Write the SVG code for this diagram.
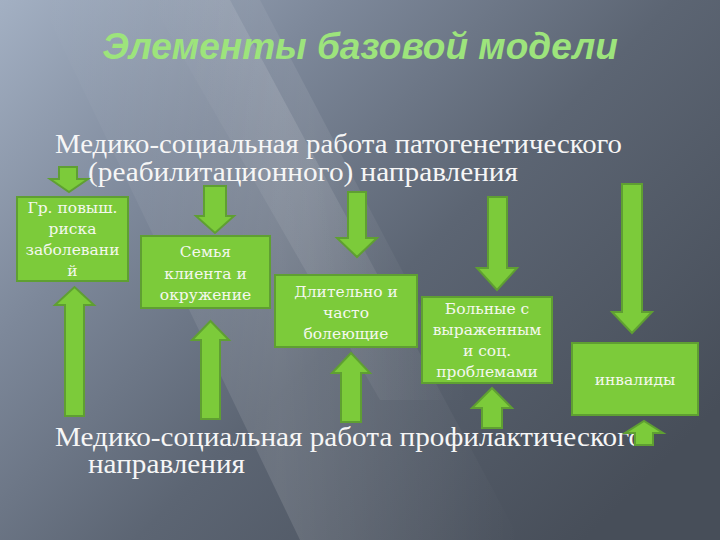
<svg xmlns="http://www.w3.org/2000/svg" width="720" height="540" viewBox="0 0 720 540">
<defs>
<linearGradient id="bg" x1="0" y1="0" x2="1" y2="0.75">
<stop offset="0" stop-color="#a3b0c3"/>
<stop offset="0.3" stop-color="#7d889a"/>
<stop offset="0.6" stop-color="#5c6573"/>
<stop offset="1" stop-color="#474e59"/>
</linearGradient>
<linearGradient id="beam" x1="0" y1="0" x2="1" y2="0">
<stop offset="0" stop-color="#ffffff" stop-opacity="0"/>
<stop offset="0.5" stop-color="#ffffff" stop-opacity="0.12"/>
<stop offset="1" stop-color="#ffffff" stop-opacity="0"/>
</linearGradient>
<style>
.box{fill:#7ccb3a;stroke:#5f9f32;stroke-width:2}
.arr{fill:#7ccb3a;stroke:#5f9f32;stroke-width:2;stroke-linejoin:miter}
.bt{font-family:"DejaVu Serif","Liberation Serif",serif;font-size:15.5px;fill:#f4f8ee;text-anchor:middle}
.mt{font-family:"Liberation Serif","DejaVu Serif",serif;font-size:27px;fill:#f6f6f6}
.title{font-family:"Liberation Sans",Arial,sans-serif;font-size:37px;font-weight:bold;font-style:italic;fill:#9de47c;text-anchor:middle}
</style>
</defs>
<rect width="720" height="540" fill="url(#bg)"/>
<polygon points="40,0 230,0 520,540 300,540" fill="url(#beam)"/>
<polygon points="150,0 260,0 470,400 380,400" fill="url(#beam)" opacity="0.7"/>
<text class="title" x="360" y="59">Элементы базовой модели</text>
<g id="text-top">
<text class="mt" x="55" y="153" textLength="567" lengthAdjust="spacingAndGlyphs">Медико-социальная работа патогенетического</text>
<text class="mt" x="88" y="181" textLength="430" lengthAdjust="spacingAndGlyphs">(реабилитационного) направления</text>
</g>
<g id="text-bottom">
<text class="mt" x="55" y="446" textLength="588" lengthAdjust="spacingAndGlyphs">Медико-социальная работа профилактического</text>
<text class="mt" x="88" y="473" textLength="157" lengthAdjust="spacingAndGlyphs">направления</text>
</g>
<g id="connectors">
<polygon class="arr" points="59,167 77,167 77,179 88,179 69,192 50,179 59,179"/>
<polygon class="arr" points="204,186 226,186 226,216 234,216 215,233 196,216 204,216"/>
<polygon class="arr" points="348,192 366,192 366,238 377,238 357,257 337,238 348,238"/>
<polygon class="arr" points="488,197 507,197 507,268 517,268 497,290 477,268 488,268"/>
<polygon class="arr" points="622,184 642,184 642,312 652,312 632,333 612,312 622,312"/>
<polygon class="arr" points="65,416 84,416 84,305 94,305 74.5,287 55,305 65,305"/>
<polygon class="arr" points="201,419 220,419 220,340 229,340 210.5,321 192,340 201,340"/>
<polygon class="arr" points="341,422 361,422 361,373 370,373 351,353 332,373 341,373"/>
<polygon class="arr" points="482,428 502,428 502,408 512,408 492,388 472,408 482,408"/>
<polygon class="arr" points="635,445 653,445 653,433 663,433 644,421 625,433 635,433"/>
</g>
<g id="node-risk">
<rect class="box" x="17" y="197" width="111" height="84"/>
<text class="bt" x="72.5" y="213">Гр. повыш.</text>
<text class="bt" x="72.5" y="234">риска</text>
<text class="bt" x="72.5" y="255">заболевани</text>
<text class="bt" x="72.5" y="276">й</text>
</g>
<g id="node-family">
<rect class="box" x="141" y="236" width="129" height="72"/>
<text class="bt" x="205.5" y="257">Семья</text>
<text class="bt" x="205.5" y="279">клиента и</text>
<text class="bt" x="205.5" y="300">окружение</text>
</g>
<g id="node-chronic">
<rect class="box" x="275" y="275" width="142" height="72"/>
<text class="bt" x="346" y="297">Длительно и</text>
<text class="bt" x="346" y="318">часто</text>
<text class="bt" x="346" y="339">болеющие</text>
</g>
<g id="node-patients">
<rect class="box" x="422" y="297" width="130" height="86"/>
<text class="bt" x="487" y="314">Больные с</text>
<text class="bt" x="487" y="335">выраженным</text>
<text class="bt" x="487" y="356">и соц.</text>
<text class="bt" x="487" y="377">проблемами</text>
</g>
<g id="node-disabled">
<rect class="box" x="572" y="343" width="126" height="72"/>
<text class="bt" x="635" y="385">инвалиды</text>
</g>
</svg>
